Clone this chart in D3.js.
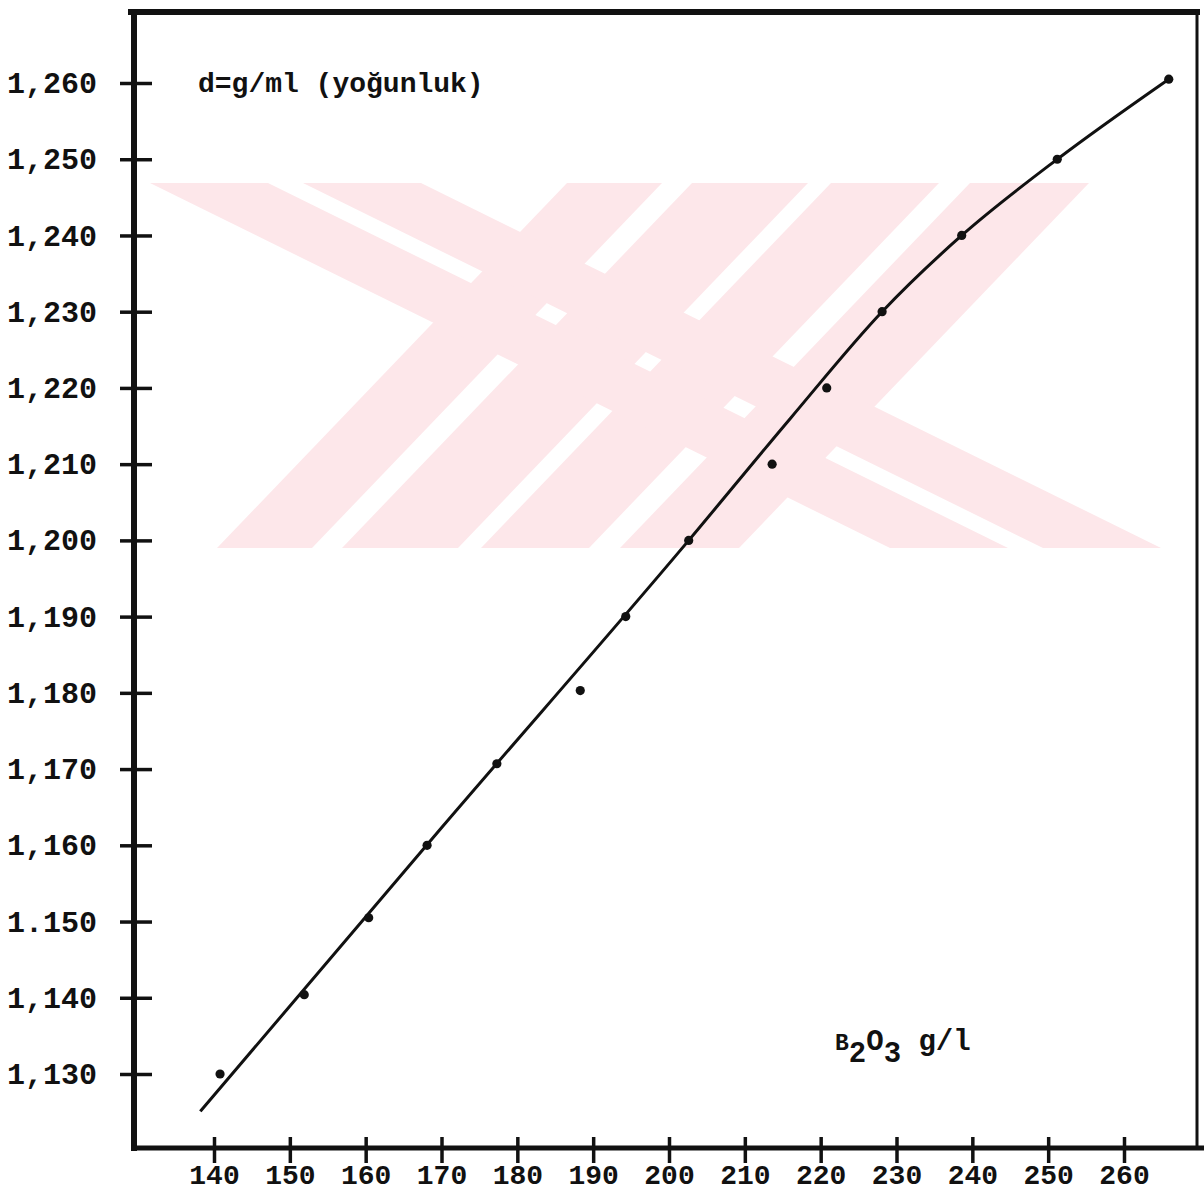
<!DOCTYPE html>
<html>
<head>
<meta charset="utf-8">
<script src="https://cdn.jsdelivr.net/npm/d3@7.9.0/dist/d3.min.js"></script>
<style>
  body { margin: 0; background: #fff; }
  svg text { font-family: "Liberation Mono", "DejaVu Sans Mono", monospace; font-weight: bold; fill: #111; }
</style>
</head>
<body>
<svg id="chart" width="1204" height="1195"></svg>
<script>
// measured points: B2O3 g/l vs density
const concentration = [140.8, 151.9, 160.4, 168.1, 177.3, 188.3, 194.3, 202.6, 213.6, 220.8, 228.1, 238.6, 251.2, 265.9];
const density = [1.130, 1.1404, 1.1505, 1.160, 1.1707, 1.1803, 1.190, 1.200, 1.210, 1.220, 1.230, 1.240, 1.250, 1.2605];

// hand drawn fitted curve
const curveX = [138.2, 170, 202.6, 216, 228.1, 238.6, 251.2, 265.9];
const curveY = [1.1251, 1.1623, 1.2000, 1.2160, 1.2300, 1.2400, 1.2500, 1.2605];

const xTicks = [140, 150, 160, 170, 180, 190, 200, 210, 220, 230, 240, 250, 260];
const yTicks = [1.130, 1.140, 1.150, 1.160, 1.170, 1.180, 1.190, 1.200, 1.210, 1.220, 1.230, 1.240, 1.250, 1.260];
const yTickLabels = ["1,130", "1,140", "1.150", "1,160", "1,170", "1,180", "1,190", "1,200", "1,210", "1,220", "1,230", "1,240", "1,250", "1,260"];

const svg = d3.select('#chart');

const x = d3.scaleLinear().domain([140, 260]).range([214, 1124]);
const y = d3.scaleLinear().domain([1.130, 1.260]).range([1074, 83]);

const axisLeftX = 134;
const axisBottomY = 1148;

// faint watermark from the scan (decoration, not data)
const wmTop = 183, wmBottom = 548;
const wmBands = [
  { x0: 567, x1: 662, shift: -350 }, { x0: 692, x1: 808, shift: -350 },
  { x0: 831, x1: 939, shift: -350 }, { x0: 970, x1: 1089, shift: -350 },
  { x0: 150, x1: 268, shift: 740 }, { x0: 303, x1: 421, shift: 740 }
];
svg.append('g').selectAll('polygon')
  .data(wmBands)
  .join('polygon')
  .attr('points', d => [[d.x0, wmTop], [d.x1, wmTop], [d.x1 + d.shift, wmBottom], [d.x0 + d.shift, wmBottom]].join(' '))
  .attr('fill', '#fde7ea');

// frame
svg.append('line').attr('x1', 128).attr('x2', 1200).attr('y1', 12).attr('y2', 12)
  .attr('stroke', '#111').attr('stroke-width', 6);
svg.append('line').attr('x1', 1197).attr('x2', 1197).attr('y1', 10).attr('y2', axisBottomY)
  .attr('stroke', '#111').attr('stroke-width', 3);

// y axis
const yAxis = svg.append('g')
  .attr('transform', `translate(${axisLeftX},0)`)
  .call(d3.axisLeft(y).tickValues(yTicks).tickFormat((d, i) => yTickLabels[i]).tickSize(0).tickPadding(37));
yAxis.select('.domain').remove();
yAxis.selectAll('.tick line').attr('x1', -14).attr('x2', 18).attr('stroke', '#111').attr('stroke-width', 3.5);
yAxis.selectAll('.tick text').attr('font-size', 30).attr('fill', '#111');
svg.append('line').attr('x1', axisLeftX).attr('x2', axisLeftX).attr('y1', 9).attr('y2', axisBottomY + 3)
  .attr('stroke', '#111').attr('stroke-width', 6);

// x axis
const xAxis = svg.append('g')
  .attr('transform', `translate(0,${axisBottomY})`)
  .call(d3.axisBottom(x).tickValues(xTicks).tickFormat(d3.format('d')).tickSize(0).tickPadding(16));
xAxis.select('.domain').remove();
xAxis.selectAll('.tick line').attr('y1', -11).attr('y2', 15).attr('stroke', '#111').attr('stroke-width', 3.5);
xAxis.selectAll('.tick text').attr('font-size', 28).attr('fill', '#111');
svg.append('line').attr('x1', axisLeftX - 3).attr('x2', 1204).attr('y1', axisBottomY).attr('y2', axisBottomY)
  .attr('stroke', '#111').attr('stroke-width', 5);

// fitted curve
const curveData = curveX.map((v, i) => ({ x: v, y: curveY[i] }));
const line = d3.line().x(d => x(d.x)).y(d => y(d.y)).curve(d3.curveMonotoneX);
svg.append('path')
  .datum(curveData)
  .attr('d', line)
  .attr('fill', 'none')
  .attr('stroke', '#111')
  .attr('stroke-width', 3);

// points
const points = concentration.map((v, i) => ({ x: v, y: density[i] }));
svg.selectAll('circle.pt')
  .data(points)
  .join('circle')
  .attr('class', 'pt')
  .attr('cx', d => x(d.x))
  .attr('cy', d => y(d.y))
  .attr('r', 4.6)
  .attr('fill', '#111');

// labels
svg.append('text').attr('x', 198).attr('y', 92).attr('font-size', 28).text('d=g/ml (yoğunluk)');

const unit = svg.append('text').attr('x', 835).attr('y', 1050).attr('font-size', 29);
unit.append('tspan').attr('font-size', 23).text('B');
unit.append('tspan').attr('dy', 12).text('2');
unit.append('tspan').attr('dy', -12).text('O');
unit.append('tspan').attr('dy', 12).text('3');
unit.append('tspan').attr('dy', -12).text(' g/l');
</script>
</body>
</html>
